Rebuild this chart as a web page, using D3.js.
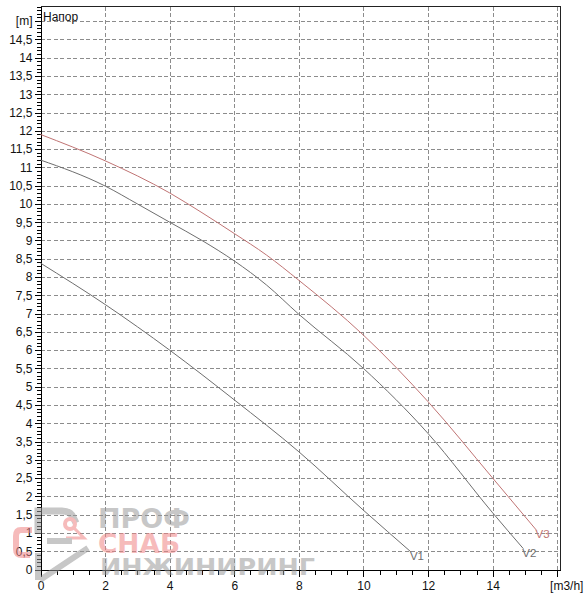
<!DOCTYPE html>
<html>
<head>
<meta charset="utf-8">
<script src="https://cdn.jsdelivr.net/npm/d3@7"></script>
<style>
    body { margin: 0; background: #fff; }
    svg { display: block; font-family: Arial, "Liberation Sans", sans-serif; }
    .grid line { stroke: #8c8c8c; stroke-dasharray: 4, 2.5; shape-rendering: crispEdges; }
    .axis path, .axis line { stroke: #000; shape-rendering: crispEdges; }
    .axis text { font-size: 12px; fill: #111; }
    .frame { stroke: #222; shape-rendering: crispEdges; }
    .curve { fill: none; stroke-width: 1; }
    .curveLabel { font-size: 11.5px; font-family: Arial, "Liberation Sans", sans-serif; }
</style>
</head>
<body>
<svg id="chart" width="586" height="600"></svg>
<script>

/*
 Data
 */

var seriesNames = ["V1", "V2", "V3"];
var seriesColors = ["#6e6e6e", "#6e6e6e", "#c07474"];

var v1Flow = [0, 2, 4, 6, 8, 10, 11.47];
var v1Head = [8.38, 7.25, 6.0, 4.64, 3.22, 1.62, 0.48];

var v2Flow = [0, 2, 3, 4, 5, 6, 7, 8, 10, 12, 14, 14.95];
var v2Head = [11.2, 10.49, 10.0, 9.5, 9.0, 8.44, 7.78, 6.98, 5.5, 3.72, 1.55, 0.57];

var v3Flow = [0, 2, 4, 5, 6, 7, 8, 10, 12, 14, 15.36];
var v3Head = [11.9, 11.18, 10.3, 9.76, 9.19, 8.6, 7.91, 6.41, 4.59, 2.5, 1.07];

var xTickValues = [0, 2, 4, 6, 8, 10, 12, 14, 16];
var xTickLabels = ["0", "2", "4", "6", "8", "10", "12", "14", "[m3/h]"];

var yTickValues = [0, 0.5, 1, 1.5, 2, 2.5, 3, 3.5, 4, 4.5, 5, 5.5, 6, 6.5, 7, 7.5,
    8, 8.5, 9, 9.5, 10, 10.5, 11, 11.5, 12, 12.5, 13, 13.5, 14, 14.5, 15];
var yTickLabels = ["0", "0,5", "1", "1,5", "2", "2,5", "3", "3,5", "4", "4,5", "5", "5,5",
    "6", "6,5", "7", "7,5", "8", "8,5", "9", "9,5", "10", "10,5", "11", "11,5", "12",
    "12,5", "13", "13,5", "14", "14,5", "[m]"];

var chartTitle = "Напор";

/*
 Scales
 */

var svg = d3.select('#chart');

var x = d3.scaleLinear().domain([0, 16.1]).range([40.5, 560.5]);
var y = d3.scaleLinear().domain([0, 15.4]).range([569.5, 6.5]);

/*
 Grid
 */

var grid = svg.append('g').classed('grid', true);

grid.selectAll('.hgrid')
    .data(yTickValues.filter(function (d) { return d > 0; }))
    .enter().append('line')
    .classed('hgrid', true)
    .attr('x1', x(0))
    .attr('x2', x.range()[1])
    .attr('y1', function (d) { return Math.round(y(d)) + 0.5; })
    .attr('y2', function (d) { return Math.round(y(d)) + 0.5; });

grid.selectAll('.vgrid')
    .data(xTickValues.filter(function (d) { return d > 0; }))
    .enter().append('line')
    .classed('vgrid', true)
    .attr('x1', function (d) { return Math.round(x(d)) + 0.5; })
    .attr('x2', function (d) { return Math.round(x(d)) + 0.5; })
    .attr('y1', y(0))
    .attr('y2', y.range()[1]);

/*
 Frame
 */

svg.append('line').classed('frame', true)
    .attr('x1', x(0)).attr('x2', x.range()[1])
    .attr('y1', y.range()[1]).attr('y2', y.range()[1]);
svg.append('line').classed('frame', true)
    .attr('x1', x.range()[1]).attr('x2', x.range()[1])
    .attr('y1', y.range()[1]).attr('y2', y(0));

/*
 Axes
 */

var yMinor = d3.range(0, 15.41, 0.1);
var xMinor = d3.range(0, 16.01, 0.5);

svg.append('g').classed('axis', true)
    .attr('transform', 'translate(' + x(0) + ',0)')
    .call(d3.axisLeft(y).tickValues(yMinor).tickSize(4).tickSizeOuter(0).tickFormat(''));

svg.append('g').classed('axis', true)
    .attr('transform', 'translate(' + x(0) + ',0)')
    .call(d3.axisLeft(y).tickValues(yTickValues).tickSize(6).tickSizeOuter(0).tickPadding(2)
        .tickFormat(function (d, i) { return yTickLabels[i]; }));

svg.append('g').classed('axis', true)
    .attr('transform', 'translate(0,' + y(0) + ')')
    .call(d3.axisBottom(x).tickValues(xMinor).tickSize(5).tickSizeOuter(0).tickFormat(''));

var xAxis = svg.append('g').classed('axis', true)
    .attr('transform', 'translate(0,' + y(0) + ')')
    .call(d3.axisBottom(x).tickValues(xTickValues).tickSize(7).tickSizeOuter(0).tickPadding(5)
        .tickFormat(function (d, i) { return xTickLabels[i]; }));

xAxis.selectAll('text')
    .filter(function (d) { return d === 16; })
    .attr('dx', 9);

svg.append('text')
    .attr('x', 43)
    .attr('y', 21)
    .attr('font-size', '12px')
    .attr('fill', '#111')
    .text(chartTitle);

/*
 Curves
 */

var curveData = [
    {name: seriesNames[0], color: seriesColors[0], flow: v1Flow, head: v1Head},
    {name: seriesNames[1], color: seriesColors[1], flow: v2Flow, head: v2Head},
    {name: seriesNames[2], color: seriesColors[2], flow: v3Flow, head: v3Head}
];

var line = d3.line()
    .x(function (d) { return x(d[0]); })
    .y(function (d) { return y(d[1]); })
    .curve(d3.curveMonotoneX);

svg.selectAll('.curve')
    .data(curveData)
    .enter().append('path')
    .classed('curve', true)
    .attr('stroke', function (d) { return d.color; })
    .attr('d', function (d) {
        return line(d3.zip(d.flow, d.head));
    });

svg.selectAll('.curveLabel')
    .data(curveData)
    .enter().append('text')
    .classed('curveLabel', true)
    .attr('fill', function (d) { return d.color; })
    .attr('x', function (d) { return x(d.flow[d.flow.length - 1]) - 1; })
    .attr('y', function (d) { return y(d.head[d.head.length - 1]) + 8; })
    .text(function (d) { return d.name; });

/*
 Watermark logo
 */

var logo = svg.append('g').attr('opacity', 0.55);
var logoGrey = '#9a9a9a';
var logoPink = '#f08484';

logo.append('path')
    .attr('d', 'M38,534 V511 H62 Q70,511 73,517 L76,523')
    .attr('fill', 'none').attr('stroke', logoGrey).attr('stroke-width', 7);
logo.append('path')
    .attr('d', 'M32,530 H21 Q16,530 16,536 V549 Q16,555 22,555 H30')
    .attr('fill', 'none').attr('stroke', logoPink).attr('stroke-width', 6);
logo.append('circle')
    .attr('cx', 70).attr('cy', 524).attr('r', 5)
    .attr('fill', 'none').attr('stroke', logoPink).attr('stroke-width', 4);
logo.append('path')
    .attr('d', 'M74,528 L84,538 H66')
    .attr('fill', 'none').attr('stroke', logoPink).attr('stroke-width', 3);
logo.append('path')
    .attr('d', 'M47,541 H72 M38,553 V580 M40,580 L88,548')
    .attr('fill', 'none').attr('stroke', logoGrey).attr('stroke-width', 6);

logo.append('text')
    .attr('x', 98).attr('y', 528)
    .attr('font-family', '"DejaVu Sans", sans-serif')
    .attr('font-size', '26px').attr('font-weight', 'bold')
    .attr('textLength', 92).attr('lengthAdjust', 'spacingAndGlyphs')
    .attr('fill', logoGrey)
    .text('ПРОФ');
logo.append('text')
    .attr('x', 98).attr('y', 553)
    .attr('font-family', '"DejaVu Sans", sans-serif')
    .attr('font-size', '27px').attr('font-weight', 'bold')
    .attr('textLength', 82).attr('lengthAdjust', 'spacingAndGlyphs')
    .attr('fill', logoPink)
    .text('СНАБ');
logo.append('text')
    .attr('x', 100).attr('y', 575)
    .attr('font-family', '"DejaVu Sans", sans-serif')
    .attr('font-size', '23px').attr('font-weight', 'bold')
    .attr('textLength', 215).attr('lengthAdjust', 'spacingAndGlyphs')
    .attr('fill', logoGrey)
    .text('ИНЖИНИРИНГ');

</script>
</body>
</html>
